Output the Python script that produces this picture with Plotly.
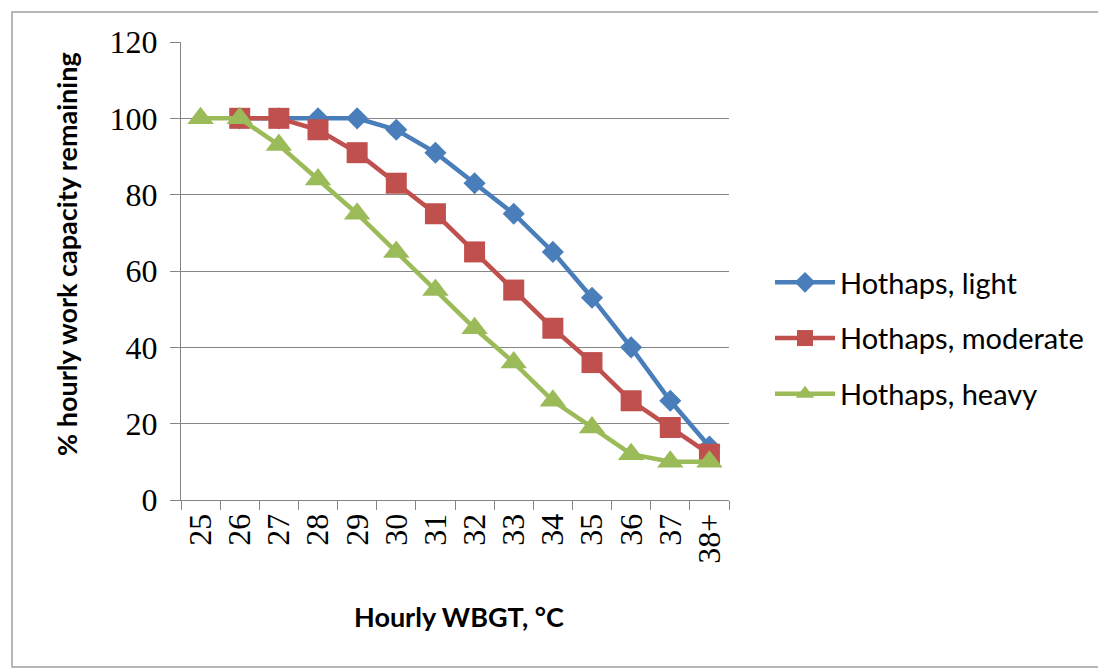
import plotly.graph_objects as go

categories = ["25", "26", "27", "28", "29", "30", "31", "32", "33", "34", "35", "36", "37", "38+"]
light = [None, 100, 100, 100, 100, 97, 91, 83, 75, 65, 53, 40, 26, 14]
moderate = [None, 100, 100, 97, 91, 83, 75, 65, 55, 45, 36, 26, 19, 12]
heavy = [100, 100, 93, 84, 75, 65, 55, 45, 36, 26, 19, 12, 10, 10]
y_ticks = [0, 20, 40, 60, 80, 100, 120]

# page body has an 8px margin; figure is sized to fit inside the window
OFF = 8
W, H = 1106 - OFF, 671 - OFF
L, R, T, B = 181, 729, 42, 500   # plot area in screen pixels

fig = go.Figure()
fig.add_trace(go.Scatter(x=categories, y=light, name="Hothaps, light", mode="lines+markers",
                         legendgroup="a",
                         line=dict(color="#4A7EBB", width=4.5),
                         marker=dict(symbol="diamond", size=17, color="#4A7EBB")))
fig.add_trace(go.Scatter(x=categories, y=moderate, name="Hothaps, moderate", mode="lines+markers",
                         legendgroup="b",
                         line=dict(color="#C0504D", width=4.5),
                         marker=dict(symbol="square", size=21, color="#C0504D")))
fig.add_trace(go.Scatter(x=categories, y=heavy, name="Hothaps, heavy", mode="lines+markers",
                         legendgroup="c",
                         line=dict(color="#9BBB59", width=4.5),
                         marker=dict(symbol="triangle-up", size=23, color="#9BBB59")))

pw = R - L
ph = B - T
def px(x):
    return (x - L) / pw
def py(y):
    return (B - y) / ph

title_font = dict(family="Lato, Carlito, sans-serif", size=27, color="#000000", weight="bold")
tick_font = dict(family="Liberation Serif, DejaVu Serif, serif", size=32, color="#000000")

fig.update_layout(
    width=W, height=H,
    margin=dict(l=L - OFF, r=W - (R - OFF), t=T - OFF, b=H - (B - OFF)),
    paper_bgcolor="white", plot_bgcolor="white",
    showlegend=True,
    legend=dict(x=px(770), y=py(257), xanchor="left", yanchor="top",
                font=dict(family="Lato, Carlito, sans-serif", size=29, color="#000000"),
                tracegroupgap=15, traceorder="grouped", itemwidth=60,
                itemsizing="trace", bgcolor="rgba(0,0,0,0)"),
    xaxis=dict(type="category", categoryorder="array", categoryarray=categories,
               range=[-0.5, len(categories) - 0.5], automargin=False,
               tickangle=-90, tickson="boundaries", ticks="outside", ticklen=9,
               tickcolor="#868686", showline=True, linecolor="#868686", linewidth=1,
               showgrid=False, zeroline=False, tickfont=tick_font),
    yaxis=dict(range=[0, 120], tickvals=y_ticks, ticks="outside", ticklen=10, automargin=False,
               ticklabelstandoff=6,
               tickcolor="#868686", showline=True, linecolor="#868686", linewidth=1,
               showgrid=True, gridcolor="#868686", gridwidth=1, zeroline=False,
               tickfont=tick_font),
    annotations=[
        dict(text="% hourly work capacity remaining", xref="paper", yref="paper",
             x=px(66), y=py(254), xanchor="center", yanchor="middle", textangle=-90,
             showarrow=False, font=title_font),
        dict(text="Hourly WBGT, \u00b0C", xref="paper", yref="paper",
             x=px(459), y=py(617), xanchor="center", yanchor="middle",
             showarrow=False, font=title_font),
    ],
    shapes=[dict(type="rect", xref="paper", yref="paper",
                 x0=px(12), x1=px(1102), y0=py(667), y1=py(12),
                 line=dict(color="#A0A0A0", width=1.5), fillcolor="rgba(0,0,0,0)", layer="below")],
)

fig.write_html("out.html")
